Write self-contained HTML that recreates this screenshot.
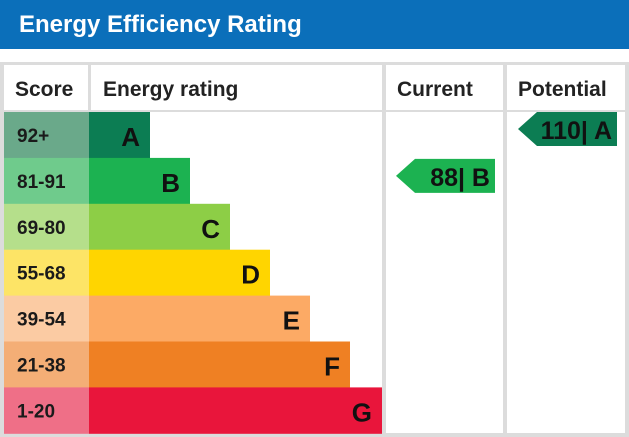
<!DOCTYPE html>
<html><head><meta charset="utf-8"><style>
html,body{margin:0;padding:0;background:#fff;width:629px;height:437px;overflow:hidden}
svg{display:block;font-family:"Liberation Sans",Arial,sans-serif}
</style></head><body>
<svg id="c" width="629" height="437" viewBox="0 0 629 437">
<rect x="0" y="0" width="629" height="49" fill="#0b6fba"/>
<text x="19" y="32" fill="#fff" font-size="24" font-weight="bold">Energy Efficiency Rating</text>
<rect x="0" y="62" width="629" height="375" fill="#dcdcdc"/>
<rect x="4" y="65" width="84" height="45" fill="#fff"/>
<rect x="91" y="65" width="291" height="45" fill="#fff"/>
<rect x="386" y="65" width="117" height="45" fill="#fff"/>
<rect x="507" y="65" width="118" height="45" fill="#fff"/>
<rect x="89" y="112" width="293" height="321" fill="#fff"/>
<rect x="386" y="112" width="117" height="321" fill="#fff"/>
<rect x="507" y="112" width="118" height="321" fill="#fff"/>
<g id="hdr" font-size="21" font-weight="bold" fill="#222"></g>
<g id="rows"></g>
<g id="marks"></g>
</svg>
<script>
const bands = ["A","B","C","D","E","F","G"];
const scoreLabels = ["92+","81-91","69-80","55-68","39-54","21-38","1-20"];
const bandMin = [92,81,69,55,39,21,1];
const barColors = ["#0c7d53","#1cb251","#8dce46","#ffd500","#fcaa65","#ef8023","#e9153b"];
const scoreColors = ["#6aa98a","#6fcb8c","#b5df8b","#fde466","#fbcba3","#f4ae76","#ef6f87"];
const headers = ["Score","Energy rating","Current","Potential"];
const currentValue = [88];
const potentialValue = [110];

const NS="http://www.w3.org/2000/svg";
function mk(tag,attrs,parent){const e=document.createElementNS(NS,tag);for(const k in attrs)e.setAttribute(k,attrs[k]);parent.appendChild(e);return e;}
const rowTop=112,rowH=45.9;
function yRow(i){return rowTop+i*rowH;}
function barEnd(i){return 150+i*40;}
function bandIndex(v){for(let i=0;i<bandMin.length;i++){if(v>=bandMin[i])return i;}return bandMin.length-1;}

const hdr=document.getElementById('hdr');
const hx=[15,103,397,518];
headers.forEach((h,i)=>{const t=mk('text',{x:hx[i],y:96},hdr);t.textContent=h;

});

const rows=document.getElementById('rows');
bands.forEach((b,i)=>{
  const y=yRow(i);
  const s=mk('rect',{x:4,y:y,width:85,height:rowH+0.5,fill:scoreColors[i]},rows);
  
  
  const st=mk('text',{x:17,y:y+30,'font-size':19,'font-weight':'bold',fill:'#1a1a1a'},rows);
  st.textContent=scoreLabels[i];
  
  
  const w=Math.min(barEnd(i),382)-89;
  const r=mk('rect',{x:89,y:y,width:w,height:rowH+0.5,fill:barColors[i]},rows);
  
  
  const lt=mk('text',{x:89+w-10,y:y+34,'font-size':26,'font-weight':'bold',fill:'#111','text-anchor':'end'},rows);
  lt.textContent=b;
  
  
});

const marks=document.getElementById('marks');
function arrow(v,x0,x1,yTop,name){
  const i=bandIndex(v);
  const h=34;
  const p=mk('polygon',{points:`${x0},${yTop+h/2} ${x0+19},${yTop} ${x1},${yTop} ${x1},${yTop+h} ${x0+19},${yTop+h}`,fill:barColors[i]},marks);
  
  
  const t=mk('text',{x:x1-5,y:yTop+27,'font-size':25,'font-weight':'bold',fill:'#111','text-anchor':'end'},marks);
  t.textContent=v+'| '+bands[i];
  
  
}
arrow(currentValue[0],396,495,yRow(bandIndex(currentValue[0]))+(bandIndex(currentValue[0])===0?0:1),'current-rating');
arrow(potentialValue[0],518,617,yRow(bandIndex(potentialValue[0])),'potential-rating');
</script>
</body></html>
